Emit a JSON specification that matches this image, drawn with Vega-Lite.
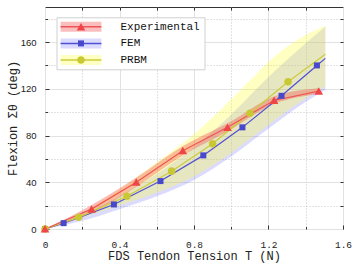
{
  "$schema": "https://vega.github.io/schema/vega-lite/v6.json",
  "width": 298,
  "height": 222,
  "autosize": "none",
  "padding": {"left": 45, "top": 7, "right": 11, "bottom": 37},
  "config": {
    "view": {"stroke": "#333333", "strokeWidth": 1},
    "font": "Liberation Mono"
  },
  "datasets": {
    "bands": [
      {"series": "FEM", "x": 0, "lo": 0, "hi": 0},
      {"series": "FEM", "x": 0.2, "lo": 7, "hi": 12},
      {"series": "FEM", "x": 0.4, "lo": 17, "hi": 28},
      {"series": "FEM", "x": 0.6, "lo": 28, "hi": 47},
      {"series": "FEM", "x": 0.8, "lo": 42, "hi": 70},
      {"series": "FEM", "x": 1.0, "lo": 62, "hi": 98},
      {"series": "FEM", "x": 1.2, "lo": 86, "hi": 130},
      {"series": "FEM", "x": 1.4, "lo": 109, "hi": 159},
      {"series": "FEM", "x": 1.505, "lo": 119, "hi": 173},
      {"series": "PRBM", "x": 0, "lo": 0, "hi": 0},
      {"series": "PRBM", "x": 0.2, "lo": 10, "hi": 14},
      {"series": "PRBM", "x": 0.4, "lo": 20, "hi": 34},
      {"series": "PRBM", "x": 0.6, "lo": 31, "hi": 57},
      {"series": "PRBM", "x": 0.8, "lo": 45, "hi": 81},
      {"series": "PRBM", "x": 1.0, "lo": 65, "hi": 111},
      {"series": "PRBM", "x": 1.1, "lo": 77, "hi": 127},
      {"series": "PRBM", "x": 1.2, "lo": 89, "hi": 143},
      {"series": "PRBM", "x": 1.3, "lo": 101, "hi": 156},
      {"series": "PRBM", "x": 1.4, "lo": 112, "hi": 166},
      {"series": "PRBM", "x": 1.505, "lo": 122, "hi": 174},
      {"series": "Experimental", "x": 0, "lo": 0, "hi": 0},
      {"series": "Experimental", "x": 0.25, "lo": 13.5, "hi": 20.5},
      {"series": "Experimental", "x": 0.49, "lo": 36, "hi": 44},
      {"series": "Experimental", "x": 0.74, "lo": 63, "hi": 71},
      {"series": "Experimental", "x": 0.98, "lo": 83.5, "hi": 90.5},
      {"series": "Experimental", "x": 1.23, "lo": 107, "hi": 113.5},
      {"series": "Experimental", "x": 1.47, "lo": 115.5, "hi": 120.5}
    ],
    "lines": [
      {"series": "FEM", "x": 0, "y": 0},
      {"series": "FEM", "x": 0.1, "y": 5},
      {"series": "FEM", "x": 0.37, "y": 21},
      {"series": "FEM", "x": 0.62, "y": 41},
      {"series": "FEM", "x": 0.85, "y": 63},
      {"series": "FEM", "x": 1.06, "y": 87},
      {"series": "FEM", "x": 1.27, "y": 114},
      {"series": "FEM", "x": 1.46, "y": 140},
      {"series": "FEM", "x": 1.505, "y": 146},
      {"series": "PRBM", "x": 0, "y": 0},
      {"series": "PRBM", "x": 0.18, "y": 10},
      {"series": "PRBM", "x": 0.44, "y": 28},
      {"series": "PRBM", "x": 0.68, "y": 49.5},
      {"series": "PRBM", "x": 0.9, "y": 73},
      {"series": "PRBM", "x": 1.1, "y": 99},
      {"series": "PRBM", "x": 1.305, "y": 126},
      {"series": "PRBM", "x": 1.505, "y": 149.5},
      {"series": "Experimental", "x": 0, "y": 0},
      {"series": "Experimental", "x": 0.25, "y": 17},
      {"series": "Experimental", "x": 0.49, "y": 40},
      {"series": "Experimental", "x": 0.74, "y": 67},
      {"series": "Experimental", "x": 0.98, "y": 87},
      {"series": "Experimental", "x": 1.23, "y": 110},
      {"series": "Experimental", "x": 1.47, "y": 118}
    ],
    "points": [
      {"series": "FEM", "x": 0, "y": 0},
      {"series": "FEM", "x": 0.1, "y": 5},
      {"series": "FEM", "x": 0.37, "y": 21},
      {"series": "FEM", "x": 0.62, "y": 41},
      {"series": "FEM", "x": 0.85, "y": 63},
      {"series": "FEM", "x": 1.06, "y": 87},
      {"series": "FEM", "x": 1.27, "y": 114},
      {"series": "FEM", "x": 1.46, "y": 140},
      {"series": "PRBM", "x": 0, "y": 0},
      {"series": "PRBM", "x": 0.18, "y": 10},
      {"series": "PRBM", "x": 0.44, "y": 28},
      {"series": "PRBM", "x": 0.68, "y": 49.5},
      {"series": "PRBM", "x": 0.9, "y": 73},
      {"series": "PRBM", "x": 1.1, "y": 99},
      {"series": "PRBM", "x": 1.305, "y": 126},
      {"series": "Experimental", "x": 0, "y": 0},
      {"series": "Experimental", "x": 0.25, "y": 17},
      {"series": "Experimental", "x": 0.49, "y": 40},
      {"series": "Experimental", "x": 0.74, "y": 67},
      {"series": "Experimental", "x": 0.98, "y": 87},
      {"series": "Experimental", "x": 1.23, "y": 110},
      {"series": "Experimental", "x": 1.47, "y": 118}
    ]
  },
  "resolve": {"axis": {"x": "independent", "y": "independent"}},
  "layer": [
    {
      "data": {"name": "bands"},
      "mark": {"type": "area", "interpolate": "monotone"},
      "encoding": {
        "x": {
          "field": "x", "type": "quantitative",
          "scale": {"domain": [0, 1.6], "nice": false, "zero": false},
          "axis": {
            "orient": "bottom", "values": [0, 0.4, 0.8, 1.2, 1.6], "format": ".1~f",
            "grid": true, "gridColor": "#e2e2e2", "gridWidth": 1,
            "tickSize": -4, "tickColor": "#333333", "tickWidth": 1, "domain": false,
            "labelFont": "Liberation Mono", "labelFontSize": 9.5, "labelColor": "#222222",
            "labelPadding": 14, "labelFlush": false, "labelOverlap": false,
            "title": "FDS Tendon Tension T (N)", "titleFont": "Liberation Mono",
            "titleFontSize": 12, "titleFontWeight": "normal", "titleColor": "#222222", "titlePadding": 2
          }
        },
        "y": {
          "field": "lo", "type": "quantitative",
          "scale": {"domain": [0, 190], "nice": false},
          "axis": {
            "orient": "left", "values": [0, 40, 80, 120, 160], "format": "d",
            "grid": true, "gridColor": "#e2e2e2", "gridWidth": 1,
            "tickSize": -4, "tickColor": "#333333", "tickWidth": 1, "domain": false,
            "labelFont": "Liberation Sans", "labelFontSize": 9.5, "labelColor": "#222222",
            "labelPadding": 13, "labelFlush": false, "labelOverlap": false,
            "title": "Flexion Σθ (deg)", "titleFont": "Liberation Mono",
            "titleFontSize": 12, "titleFontWeight": "normal", "titleColor": "#222222", "titlePadding": 1
          }
        },
        "y2": {"field": "hi"},
        "fill": {
          "field": "series", "type": "nominal",
          "scale": {"range": ["rgba(240,70,70,0.35)", "rgba(90,90,255,0.22)", "rgba(255,255,50,0.3)"]},
          "legend": {
            "title": null, "orient": "none", "legendX": 11.5, "legendY": 10.3,
            "symbolType": "M-4.08,-1H4.08V1H-4.08Z", "symbolSize": 100, "symbolStrokeWidth": 0,
            "symbolOffset": 15, "labelOffset": 34,
            "labelFont": "Liberation Mono", "labelFontSize": 11, "labelColor": "#111111",
            "padding": 4, "rowPadding": 4.6,
            "fillColor": "white", "strokeColor": "#d0d0d0", "zindex": 0
          }
        }
      }
    },
    {
      "data": {"name": "lines"},
      "mark": {"type": "line", "strokeWidth": 1.2},
      "encoding": {
        "x": {
          "field": "x", "type": "quantitative",
          "axis": {
            "orient": "bottom", "values": [0.2, 0.6, 1.0, 1.4],
            "grid": true, "gridColor": "#c4c4c4", "gridDash": [1, 2], "gridWidth": 1,
            "tickSize": -2.5, "tickColor": "#333333", "domain": false, "labels": false, "title": null
          }
        },
        "y": {
          "field": "y", "type": "quantitative",
          "axis": {
            "orient": "left", "values": [20, 60, 100, 140, 180],
            "grid": true, "gridColor": "#c4c4c4", "gridDash": [1, 2], "gridWidth": 1,
            "tickSize": -2.5, "tickColor": "#333333", "domain": false, "labels": false, "title": null
          }
        },
        "stroke": {
          "field": "series", "type": "nominal",
          "scale": {"range": ["#f05454", "#5050d4", "#cccc3c"]},
          "legend": {
            "title": null, "orient": "none", "legendX": 11.5, "legendY": 10.3,
            "symbolType": "M-4.53,0H4.53", "symbolSize": 81, "symbolStrokeWidth": 1.5,
            "symbolOffset": 15, "labelOffset": 34,
            "labelFont": "Liberation Mono", "labelFontSize": 11, "labelOpacity": 0,
            "padding": 4, "rowPadding": 4.6, "zindex": 1
          }
        }
      }
    },
    {
      "data": {"name": "points"},
      "mark": {"type": "point", "filled": true, "opacity": 1, "size": 100, "strokeWidth": 0},
      "encoding": {
        "x": {
          "field": "x", "type": "quantitative",
          "axis": {
            "orient": "top", "values": [0.2, 0.4, 0.6, 0.8, 1.0, 1.2, 1.4],
            "grid": false, "tickSize": -3, "tickColor": "#333333", "domain": false, "labels": false, "title": null
          }
        },
        "y": {
          "field": "y", "type": "quantitative",
          "axis": {
            "orient": "right", "values": [20, 40, 60, 80, 100, 120, 140, 160, 180],
            "grid": false, "tickSize": -3, "tickColor": "#333333", "domain": false, "labels": false, "title": null
          }
        },
        "color": {
          "field": "series", "type": "nominal",
          "scale": {"range": ["#ee4646", "#4848cc", "#c8c834"]},
          "legend": {
            "title": null, "orient": "none", "legendX": 11.5, "legendY": 10.3,
            "symbolSize": 100, "symbolStrokeWidth": 0,
            "symbolOffset": 15, "labelOffset": 34,
            "labelFont": "Liberation Mono", "labelFontSize": 11, "labelOpacity": 0,
            "padding": 4, "rowPadding": 4.6, "zindex": 2
          }
        },
        "shape": {
          "field": "series", "type": "nominal",
          "scale": {"range": [
            "M-4.08,0M4.08,0M0,-0.78L0.86,0.72L-0.86,0.72Z",
            "M-4.08,0M4.08,0M-0.6,-0.6H0.6V0.6H-0.6Z",
            "M-4.08,0M4.08,0M-0.76,0A0.76,0.76,0,1,0,0.76,0A0.76,0.76,0,1,0,-0.76,0Z"
          ]},
          "legend": {
            "title": null, "orient": "none", "legendX": 11.5, "legendY": 10.3,
            "symbolSize": 100, "symbolStrokeWidth": 0,
            "symbolOffset": 15, "labelOffset": 34,
            "labelFont": "Liberation Mono", "labelFontSize": 11, "labelOpacity": 0,
            "padding": 4, "rowPadding": 4.6, "zindex": 2
          }
        }
      }
    }
  ]
}
